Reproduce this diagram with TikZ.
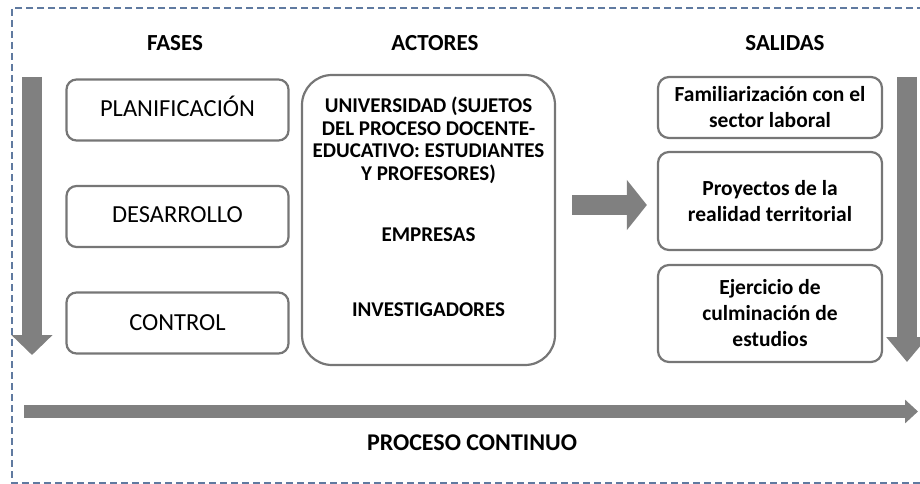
\documentclass[tikz,border=0pt]{standalone}
\usepackage{fontspec}
\setmainfont{Carlito}
\usepackage{xcolor}
\usetikzlibrary{positioning, arrows.meta}

\definecolor{boxgray}{RGB}{118,118,118}
\definecolor{arrowgray}{RGB}{128,128,128}
\definecolor{frameblue}{RGB}{96,122,160}

\begin{document}
\begin{tikzpicture} [x = 1pt, y = -1pt, node distance = 106.5pt, on grid,
        fase/.style = {draw = boxgray, line width = 2.2pt, rounded corners = 10pt,
            minimum width = 222pt, minimum height = 61pt,
            font = \fontsize{24.5}{28}\selectfont},
        salida/.style = {draw = boxgray, line width = 2.2pt, rounded corners = 11pt,
            minimum width = 224pt, align = center,
            font = \bfseries\fontsize{21.5}{26}\selectfont},
        titulo/.style = {font = \bfseries\fontsize{23}{24}\selectfont},
        fatarrow/.style = {color = arrowgray, line width = 20pt,
            -{Triangle[length = 20pt, width = 40pt]}}]

        \useasboundingbox (0,0) rectangle (920,484);
        \draw [frameblue, line width = 1.2pt, dash pattern = on 7pt off 4pt]
            (935,8) -- (12,8) -- (12,483) -- (935,483);

        \node (h0) [titulo] at (175,43) {FASES};
        \node (h1) [titulo] at (435,43) {ACTORES};
        \node (h2) [titulo] at (785,43) {SALIDAS};

        \node (f0) [fase] at (177.5,110) {\raisebox{7pt}{PLANIFICACIÓN}};
        \node (f1) [fase, below = of f0] {\raisebox{3pt}{DESARROLLO}}; \node
        (f2) [fase, below = of f1] {\raisebox{-3pt}{CONTROL}};

        \node (a0) [draw = boxgray, line width = 2.2pt, rounded corners = 30pt,
        minimum width = 253pt, minimum height = 290pt, align = center,
        font = \bfseries\fontsize{21}{22.5}\selectfont]
        at (428.5,220) {UNIVERSIDAD (SUJETOS\\DEL PROCESO DOCENTE-\\EDUCATIVO:
        ESTUDIANTES\\Y PROFESORES)\\[38.5pt]EMPRESAS\\[52.5pt]INVESTIGADORES\\[4.5pt]\mbox{}};

        \node (s0) [salida, minimum height = 61pt] at (770,107.5)
        {Familiarización con el\\sector laboral}; \node (s1) [salida, minimum
        height = 98pt, below = 93.5pt of s0] {Proyectos de la\\realidad
        territorial}; \node (s2) [salida, minimum height = 97pt, below =
        112.5pt of s1] {Ejercicio de\\culminación de\\estudios};

        \node (p0) [titulo, font = \bfseries\fontsize{24}{26}\selectfont]
        at (472,443) {PROCESO CONTINUO};

        \coordinate (d0) at (32,77); \coordinate (d1) at (32,355);
        \coordinate (e0) at (907,77); \coordinate (e1) at (907,362);
        \coordinate (c0) at (24,411.5); \coordinate (c1) at (918,411.5);
        \coordinate (r1) at ([yshift = -4pt] s1.west);

        \draw [fatarrow] (d0) -- (d1);
        \draw [fatarrow, -{Triangle[length = 25pt, width = 40pt]}] (e0) -- (e1);
        \draw [fatarrow, line width = 13pt,
            -{Triangle[length = 13pt, width = 23pt]}] (c0) -- (c1);
        \draw [fatarrow, shorten <= 16pt, shorten >= 10pt,
            -{Triangle[length = 20pt, width = 49pt]}] (a0.east |- r1) -- (r1);

    \end{tikzpicture}
\end{document}
